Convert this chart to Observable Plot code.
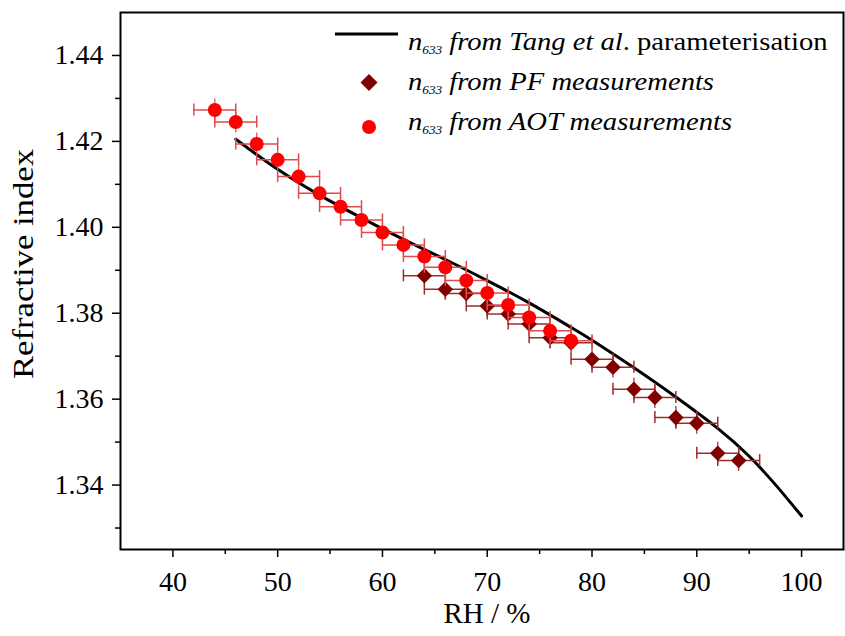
<!DOCTYPE html>
<html>
<head>
<meta charset="utf-8">
<script src="https://cdn.jsdelivr.net/npm/d3@7"></script>
<script src="https://cdn.jsdelivr.net/npm/@observablehq/plot@0.6"></script>
<style>
  html, body { margin: 0; padding: 0; background: #fff; }
  #wrap { position: relative; width: 845px; height: 636px; }
  #legend { position: absolute; left: 0; top: 0; pointer-events: none; font-family: "Liberation Serif", serif; }
</style>
</head>
<body>
<div id="wrap">
  <div id="chart"></div>
  <svg id="legend" width="845" height="160">
    <line x1="335" x2="398" y1="34" y2="34" stroke="#000" stroke-width="3"/>
    <path d="M369,74 L377.5,82.5 L369,91 L360.5,82.5 Z" fill="#800000"/>
    <circle cx="369" cy="127" r="7" fill="#ff0000"/>
    <g font-size="26" fill="#000">
      <text transform="translate(408,50) scale(1.1,1)"><tspan font-style="italic">n</tspan><tspan font-style="italic" font-size="12" dy="4">633</tspan><tspan font-style="italic" dy="-4"> from Tang et al</tspan><tspan>. parameterisation</tspan></text>
      <text transform="translate(408,90) scale(1.1,1)"><tspan font-style="italic">n</tspan><tspan font-style="italic" font-size="12" dy="4">633</tspan><tspan font-style="italic" dy="-4"> from PF measurements</tspan></text>
      <text transform="translate(408,130) scale(1.1,1)"><tspan font-style="italic">n</tspan><tspan font-style="italic" font-size="12" dy="4">633</tspan><tspan font-style="italic" dy="-4"> from AOT measurements</tspan></text>
    </g>
  </svg>
</div>
<script>
// ---- data ----
const rhAOT = [44, 46, 48, 50, 52, 54, 56, 58, 60, 62, 64, 66, 68, 70, 72, 74, 76, 78];
const nAOT  = [1.4273, 1.4245, 1.4194, 1.4157, 1.4118, 1.4079, 1.4048, 1.4017, 1.3988,
               1.3959, 1.3932, 1.3907, 1.3876, 1.3847, 1.3819, 1.3790, 1.3759, 1.3736];
const rhPF = [64, 66, 68, 70, 72, 74, 76, 78, 80, 82, 84, 86, 88, 90, 92, 94];
const nPF  = [1.3887, 1.3856, 1.3846, 1.3817, 1.3798, 1.3775, 1.3743, 1.3731,
              1.3693, 1.3674, 1.3623, 1.3604, 1.3557, 1.3544, 1.3474, 1.3457];
const rhTang = [46, 50, 54, 58, 62, 66, 70, 74, 78, 80, 84, 88, 92, 95, 97.5, 100];
const nTang  = [1.4205, 1.4135, 1.4075, 1.4022, 1.3972, 1.3925, 1.3876, 1.3824,
                1.3767, 1.3737, 1.3673, 1.3605, 1.3532, 1.3467, 1.3401, 1.3328];
const rhErr = 2;
const xMajor = [40, 50, 60, 70, 80, 90, 100];
const xMinor = [45, 55, 65, 75, 85, 95];
const yMajor = [1.34, 1.36, 1.38, 1.40, 1.42, 1.44];
const yMinor = [1.33, 1.35, 1.37, 1.39, 1.41, 1.43];

const aot = rhAOT.map((x, i) => ({x, y: nAOT[i]}));
const pf = rhPF.map((x, i) => ({x, y: nPF[i]}));
const tang = rhTang.map((x, i) => ({x, y: nTang[i]}));

const errColAOT = "#e04a4a";
const errColPF = "#9e2c2c";

function errMarks(data, color) {
  return [
    Plot.ruleY(data, {y: "y", x1: d => d.x - rhErr, x2: d => d.x + rhErr, stroke: color, strokeWidth: 1.5}),
    Plot.ruleX(data, {x: d => d.x - rhErr, y1: "y", y2: "y", insetTop: -6, insetBottom: -6, stroke: color, strokeWidth: 1.5}),
    Plot.ruleX(data, {x: d => d.x + rhErr, y1: "y", y2: "y", insetTop: -6, insetBottom: -6, stroke: color, strokeWidth: 1.5}),
    Plot.ruleX(data, {x: "x", y1: "y", y2: "y", insetTop: -11, insetBottom: -11, stroke: color, strokeWidth: 1.2})
  ];
}

const chart = Plot.plot({
  width: 845,
  height: 636,
  marginLeft: 120,
  marginTop: 12,
  marginRight: 2,
  marginBottom: 87,
  x: {domain: [35, 104]},
  y: {domain: [1.325, 1.45]},
  style: {fontFamily: "Liberation Serif", fontSize: "28px", background: "white", color: "black", overflow: "visible"},
  marks: [
    Plot.axisX(xMajor, {tickSize: 8, tickPadding: 14, strokeWidth: 1.5, label: null, fontSize: 28, tickFormat: d => String(d)}),
    Plot.axisX(xMinor, {tickSize: 5, strokeWidth: 1.5, tickFormat: () => "", label: null}),
    Plot.axisY(yMajor, {tickSize: 8, tickPadding: 9, strokeWidth: 1.5, label: null, fontSize: 28, tickFormat: d3.format(".2f")}),
    Plot.axisY(yMinor, {tickSize: 5, strokeWidth: 1.5, tickFormat: () => "", label: null}),
    Plot.text(["RH / %"], {frameAnchor: "bottom", dx: 5, dy: 73, fontSize: 29, textAnchor: "middle", text: d => d}),
    Plot.text(["Refractive index"], {frameAnchor: "left", dx: -97, dy: -17, rotate: -90, fontSize: 29, textAnchor: "middle", text: d => d, className: "ytitle"}),
    Plot.line(tang, {x: "x", y: "y", stroke: "#000", strokeWidth: 3, curve: "natural"}),
    ...errMarks(pf, errColPF),
    Plot.dot(pf, {x: "x", y: "y", symbol: "diamond2", r: 7, fill: "#800000", stroke: "none"}),
    ...errMarks(aot, errColAOT),
    Plot.dot(aot, {x: "x", y: "y", r: 7, fill: "#ff0000", stroke: "none"}),
    Plot.frame({stroke: "#000", strokeWidth: 2})
  ]
});
document.getElementById("chart").appendChild(chart);
d3.select(chart).selectAll(".ytitle text").attr("textLength", 230).attr("lengthAdjust", "spacingAndGlyphs");
</script>
</body>
</html>
